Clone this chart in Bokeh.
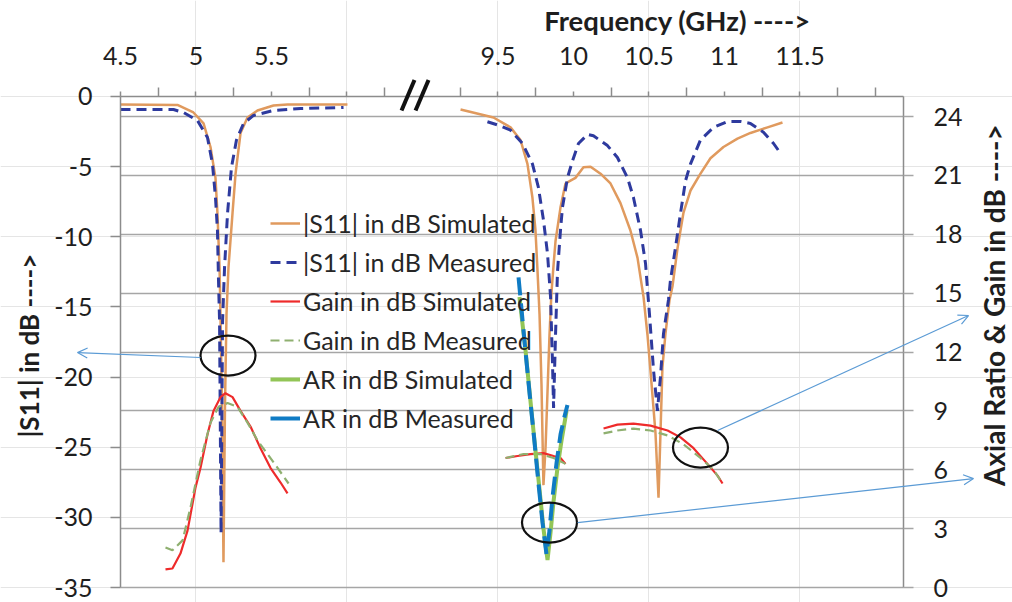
import numpy as np
from bokeh.plotting import figure
from bokeh.models import (Range1d, LinearAxis, FixedTicker, Grid, Legend, LegendItem,
                          Label, Arrow, OpenHead)
from bokeh.embed import file_html
from bokeh.resources import INLINE

# ---------------- data ----------------
# |S11| simulated (dB) vs frequency (GHz)
s11_sim_f_lo = [4.500, 4.877, 4.983, 5.050, 5.096, 5.129, 5.142, 5.156, 5.162, 5.172, 5.182,
                5.192, 5.202, 5.215, 5.242, 5.262, 5.295, 5.341, 5.407, 5.513, 5.606, 6.003]
s11_sim_db_lo = [-0.57, -0.60, -1.14, -1.92, -3.6, -5.8, -8.3, -12.2, -15.5, -22.0, -33.2,
                 -22.0, -15.5, -12.2, -8.3, -5.5, -2.6, -1.5, -1.0, -0.64, -0.57, -0.57]
s11_sim_f_hi = [9.252, 9.470, 9.583, 9.649, 9.695, 9.728, 9.748, 9.762, 9.775, 9.788, 9.801,
                9.815, 9.828, 9.841, 9.854, 9.868, 9.881, 9.914, 9.947, 9.980, 10.013, 10.066,
                10.113, 10.179, 10.245, 10.311, 10.377, 10.424, 10.464, 10.490, 10.517, 10.543,
                10.563, 10.576, 10.589, 10.609, 10.636, 10.656, 10.689, 10.728, 10.775, 10.841,
                10.907, 10.993, 11.086, 11.172, 11.285, 11.384]
s11_sim_db_hi = [-0.93, -1.5, -2.2, -3.1, -4.8, -7.2, -9.5, -12.5, -15.5, -20.5, -27.7,
                 -25.0, -21.0, -17.0, -14.0, -12.0, -10.3, -7.9, -6.2, -6.0, -5.8, -5.05,
                 -5.0, -5.5, -6.2, -7.6, -9.55, -11.5, -14.3, -17.0, -20.5, -24.0,
                 -28.6, -24.0, -19.3, -16.9, -14.5, -13.5, -10.8, -8.3, -6.7, -5.5,
                 -4.4, -3.6, -3.0, -2.6, -2.2, -1.85]

# |S11| measured
s11_mea_f_lo = [4.500, 4.851, 4.917, 5.010, 5.076, 5.109, 5.129, 5.142, 5.149, 5.156, 5.166,
                5.176, 5.189, 5.209, 5.235, 5.268, 5.315, 5.381, 5.513, 5.692, 5.977]
s11_mea_db_lo = [-0.93, -0.93, -1.14, -1.71, -2.92, -4.8, -7.2, -9.5, -13.1, -16.0, -31.1,
                 -16.0, -12.2, -8.3, -5.05, -3.1, -1.92, -1.35, -1.0, -0.86, -0.78]
s11_mea_f_hi = [9.430, 9.517, 9.583, 9.662, 9.728, 9.768, 9.801, 9.828, 9.848, 9.861, 9.868,
                9.881, 9.894, 9.914, 9.927, 9.960, 9.993, 10.033, 10.093, 10.132, 10.225,
                10.291, 10.358, 10.397, 10.444, 10.477, 10.503, 10.530, 10.556, 10.576, 10.596,
                10.629, 10.642, 10.675, 10.709, 10.742, 10.775, 10.841, 10.927, 11.020, 11.106,
                11.172, 11.258, 11.325, 11.371]
s11_mea_db_hi = [-1.8, -2.1, -2.4, -3.35, -4.8, -6.5, -8.8, -11.2, -14.3, -19.0, -22.2,
                 -17.0, -12.5, -9.5, -7.9, -5.8, -4.6, -3.35, -2.7, -2.8, -3.5,
                 -4.35, -5.8, -7.2, -9.55, -11.9, -15.5, -19.5, -22.4, -20.0, -16.9,
                 -14.5, -13.1, -10.8, -8.3, -6.0, -4.8, -3.1, -2.2, -1.78, -1.78,
                 -1.92, -2.55, -3.35, -4.05]

# Gain simulated (dB)
gain_sim_f_lo = [4.798, 4.844, 4.897, 4.944, 4.997, 5.030, 5.076, 5.116, 5.162, 5.195, 5.242,
                 5.295, 5.361, 5.427, 5.493, 5.560, 5.606]
gain_sim_db_lo = [0.92, 0.97, 1.73, 2.9, 5.1, 6.1, 7.8, 9.0, 9.7, 9.9, 9.7,
                  9.0, 8.2, 7.1, 6.1, 5.35, 4.8]
gain_sim_f_hi1 = [9.550, 9.629, 9.715, 9.801, 9.868, 9.914, 9.947]
gain_sim_db_hi1 = [6.6, 6.7, 6.8, 6.85, 6.7, 6.6, 6.3]
gain_sim_f_hi2 = [10.199, 10.291, 10.397, 10.510, 10.623, 10.709, 10.795, 10.887, 10.954, 10.987]
gain_sim_db_hi2 = [8.1, 8.3, 8.35, 8.25, 8.0, 7.65, 7.1, 6.3, 5.7, 5.3]

# Gain measured (dB)
gain_mea_f_lo = [4.798, 4.844, 4.911, 4.964, 5.030, 5.096, 5.149, 5.209, 5.275, 5.341, 5.407,
                 5.474, 5.540, 5.613]
gain_mea_db_lo = [2.04, 1.9, 2.4, 4.1, 6.5, 8.4, 9.2, 9.4, 9.2, 8.4, 7.5, 6.8, 6.1, 5.3]
gain_mea_f_hi1 = [9.550, 9.669, 9.781, 9.868, 9.947]
gain_mea_db_hi1 = [6.6, 6.8, 6.8, 6.6, 6.3]
gain_mea_f_hi2 = [10.199, 10.291, 10.397, 10.510, 10.623, 10.728, 10.841, 10.927, 10.987]
gain_mea_db_hi2 = [7.85, 8.0, 8.1, 8.0, 7.75, 7.3, 6.6, 6.0, 5.3]

# Axial ratio (dB)
ar_sim_f = [9.642, 9.682, 9.715, 9.748, 9.775, 9.801, 9.828, 9.848, 9.868, 9.894, 9.921, 9.954]
ar_sim_db = [14.8, 12.1, 9.5, 7.0, 5.0, 3.0, 1.4, 2.8, 4.4, 6.1, 7.5, 9.0]
ar_mea_f = [9.636, 9.675, 9.709, 9.742, 9.768, 9.795, 9.821, 9.841, 9.861, 9.887, 9.914, 9.940, 9.960]
ar_mea_db = [15.8, 12.6, 9.9, 7.4, 5.3, 3.3, 1.7, 2.9, 4.6, 6.3, 7.8, 8.7, 9.3]

# axis ticks
freq_tick_labels = [4.5, 5, 5.5, 9.5, 10, 10.5, 11, 11.5]
s11_ticks = [-35, -30, -25, -20, -15, -10, -5, 0]
right_ticks = [0, 3, 6, 9, 12, 15, 18, 21, 24]

series_names = ["|S11| in dB Simulated", "|S11| in dB Measured", "Gain in dB Simulated",
                "Gain in dB Measured", "AR in dB Simulated", "AR in dB Measured"]

# ---------------- helpers ----------------
BREAK_SHIFT = 2.5  # 6.5..9.5 GHz gap collapsed to one half-GHz step


def to_axis(f):
    f = np.asarray(f, dtype=float)
    return np.where(f < 7.5, f, f - BREAK_SHIFT)


def join(*pairs):
    xs, ys = [], []
    for f, v in pairs:
        if xs:
            xs.append(np.nan)
            ys.append(np.nan)
        xs.extend(to_axis(f).tolist())
        ys.extend(list(v))
    return xs, ys


FONT = "Lato"
GRID_C = "#A6A6A6"
AXIS_C = "#8C8C8C"
TXT_C = "#1E1E1E"

X0, X1 = 4.5, 9.6854          # plotted frequency-axis extent (axis units)
Y0, Y1 = -35.0, 0.0           # |S11| extent
R0, R1 = 0.0, 25.02           # right-axis extent

# the frame fills the canvas; axes are pinned at the plot-area edges
p = figure(width=1012, height=602, output_backend="svg", toolbar_location=None,
           x_range=Range1d(3.7053, 10.4073), y_range=Range1d(-36.065, 6.842),
           x_axis_location=None, y_axis_location=None, min_border=0)
p.title.visible = False
p.outline_line_color = None
p.background_fill_color = "white"
p.border_fill_color = "white"
p.extra_y_ranges = {"r": Range1d(-0.764, 29.911)}


def style_axis(ax, standoff):
    ax.major_tick_in = 0
    ax.major_tick_out = 10
    ax.minor_tick_in = 0
    ax.minor_tick_out = 0
    ax.major_label_standoff = standoff
    ax.axis_line_color = AXIS_C
    ax.axis_line_width = 1.5
    ax.major_tick_line_color = AXIS_C
    ax.major_tick_line_width = 1.5
    ax.minor_tick_line_color = AXIS_C
    ax.minor_tick_line_width = 1.5
    ax.major_label_text_font = FONT
    ax.major_label_text_font_size = "25px"
    ax.major_label_text_color = TXT_C


# left axis
la = LinearAxis(fixed_location=X0, bounds=(Y0, Y1),
                ticker=FixedTicker(ticks=s11_ticks, minor_ticks=[]),
                major_label_overrides={t: str(t) for t in s11_ticks})
style_axis(la, 18)
p.add_layout(la, "left")

# right axis
ra = LinearAxis(y_range_name="r", fixed_location=X1, bounds=(R0, R1),
                ticker=FixedTicker(ticks=right_ticks, minor_ticks=[]))
style_axis(ra, 20)
ra.major_tick_line_color = GRID_C
p.add_layout(ra, "right")

grid = Grid(dimension=1, ticker=FixedTicker(ticks=right_ticks), y_range_name="r",
            cross_bounds=(X0, X1), grid_line_color=GRID_C, grid_line_width=1.5)
p.add_layout(grid)

# top (frequency) axis
label_pos = to_axis(freq_tick_labels).tolist()
blank_pos = [6.0, 6.5]
major_pos = sorted(label_pos + blank_pos)
minor_pos = [4.75 + 0.5 * i for i in range(10)] + [9.5]
overrides = {float(u): ("%g" % f) for u, f in zip(label_pos, freq_tick_labels)}
overrides.update({u: "" for u in blank_pos})
ta = LinearAxis(fixed_location=Y1, bounds=(X0, X1),
                ticker=FixedTicker(ticks=major_pos, minor_ticks=minor_pos),
                major_label_overrides=overrides)
style_axis(ta, 22)
ta.major_tick_out = 5
ta.minor_tick_out = 9
p.add_layout(ta, "above")

# ---------------- series ----------------
x, y = join((s11_sim_f_lo, s11_sim_db_lo), (s11_sim_f_hi, s11_sim_db_hi))
r1 = p.line(x, y, line_color="#E09A5E", line_width=2.5)
x, y = join((s11_mea_f_lo, s11_mea_db_lo), (s11_mea_f_hi, s11_mea_db_hi))
r2 = p.line(x, y, line_color="#2E3A9E", line_width=3, line_dash="10 6")
x, y = join((gain_sim_f_lo, gain_sim_db_lo), (gain_sim_f_hi1, gain_sim_db_hi1),
            (gain_sim_f_hi2, gain_sim_db_hi2))
r3 = p.line(x, y, line_color="#EE2B2B", line_width=2.2, y_range_name="r")
x, y = join((gain_mea_f_lo, gain_mea_db_lo), (gain_mea_f_hi1, gain_mea_db_hi1),
            (gain_mea_f_hi2, gain_mea_db_hi2))
r4 = p.line(x, y, line_color="#8FB070", line_width=2.2, line_dash="9 5", y_range_name="r")
x, y = join((ar_sim_f, ar_sim_db))
r5 = p.line(x, y, line_color="#92C556", line_width=4, y_range_name="r")
x, y = join((ar_mea_f, ar_mea_db))
p.line(x, y, line_color="#0F7BC4", line_width=4, line_dash="18 8", y_range_name="r")
# legend swatch for the measured AR (solid, as in the key)
r6 = p.line([np.nan], [np.nan], line_color="#0F7BC4", line_width=4)

legend = Legend(items=[LegendItem(label=n, renderers=[r]) for n, r in
                       zip(series_names, [r1, r2, r3, r4, r5, r6])],
                location=(270, 169), orientation="vertical",
                background_fill_alpha=0, border_line_color=None, padding=0, margin=0,
                spacing=9, glyph_width=30, glyph_height=30, label_height=30,
                label_standoff=3, label_text_font=FONT, label_text_font_size="25px",
                label_text_color="#262626")
p.add_layout(legend)

# ---------------- annotations ----------------
ell_x = [5.212, 8.341, 7.341]
ell_y = [11.82, 7.13, 3.31]
p.ellipse(x=ell_x, y=ell_y, width=55, height=40, width_units="screen", height_units="screen",
          fill_color=None, line_color="#111111", line_width=2.2, y_range_name="r")

arrows = [((5.030, 11.72), (4.215, 11.97)),
          ((8.454, 8.00), (10.116, 13.86)),
          ((7.527, 3.31), (10.149, 5.55))]
for (xs_, ys_), (xe_, ye_) in arrows:
    p.add_layout(Arrow(x_start=xs_, y_start=ys_, x_end=xe_, y_end=ye_, y_range_name="r",
                       line_color="#5B9BD5", line_width=1.2,
                       end=OpenHead(size=10, line_color="#5B9BD5", line_width=1.2)))

# axis break marks "//"
for xs_, xe_ in [(6.361, 6.447), (6.454, 6.540)]:
    p.add_layout(Arrow(x_start=xs_, y_start=-1.0, x_end=xe_, y_end=1.18, end=None,
                       line_color="#111111", line_width=4))

# axis titles
title_kw = dict(text_align="center", text_baseline="middle", text_font=FONT,
                text_font_style="bold", text_color=TXT_C)
p.add_layout(Label(x=8.189, y=5.417, text="Frequency (GHz) ---->",
                   text_font_size="27.5px", **title_kw))
p.add_layout(Label(x=3.891, y=-17.75, text="|S11| in dB ---->", angle=np.pi / 2,
                   text_font_size="26px", **title_kw))
p.add_layout(Label(x=10.288, y=14.39, y_range_name="r", text="Axial Ratio & Gain in dB ---->",
                   angle=np.pi / 2, text_font_size="28px", **title_kw))

open("out.html", "w").write(file_html(p, INLINE))
